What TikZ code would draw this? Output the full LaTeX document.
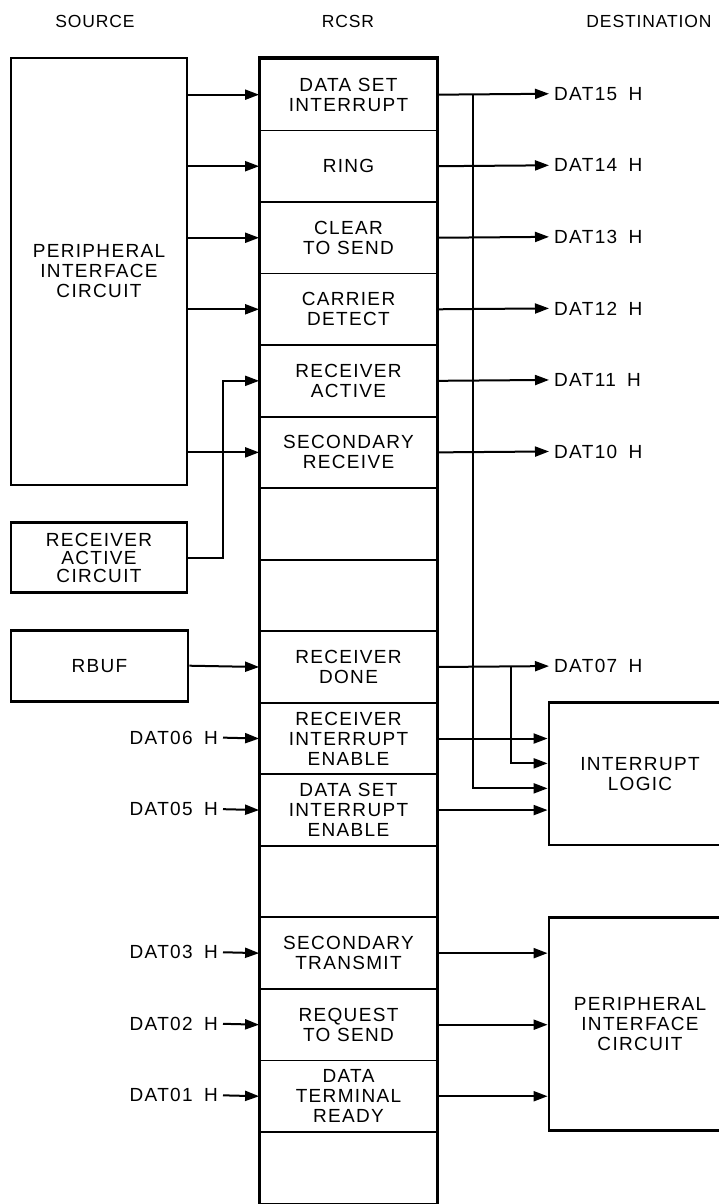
\documentclass[tikz,border=0pt]{standalone}
\usepackage{fontspec}
\newfontfamily\lbl[LetterSpace=7]{Liberation Sans}
\newfontfamily\hdl[LetterSpace=5]{Liberation Sans}
\usetikzlibrary{arrows.meta}
\begin{document}
\begin{tikzpicture}[x=1pt,y=-1pt,
  txt/.style={font=\lbl\fontsize{19}{20}\selectfont, align=center, inner sep=0pt},
  head/.style={font=\hdl\fontsize{17.5}{19}\selectfont, inner sep=0pt},
  cell/.style={txt, draw, line width=1.8pt, minimum width=177pt, minimum height=71.54pt, anchor=north},
  blk/.style={txt, draw, line width=2.8pt},
  conn/.style={line width=2pt, -{Triangle[length=14pt,width=10pt]}},
  sigl/.style={txt, inner xsep=5pt, anchor=east},
  sigr/.style={txt, inner xsep=5pt, anchor=west}
]
\useasboundingbox (0,0) rectangle (719,1204);
\clip (0,0) rectangle (719,1204);

% headings
\node[head] (hsrc) at (95,21) {SOURCE};
\node[head] (hrcsr) at (348,21) {RCSR};
\node[head] (hdst) at (649,21) {DESTINATION};

% RCSR register cells
\node[cell] (b15) at (348.5,58.00) {DATA SET\\INTERRUPT};
\node[cell] (b14) at (348.5,129.54) {RING};
\node[cell] (b13) at (348.5,201.08) {CLEAR\\TO SEND};
\node[cell] (b12) at (348.5,272.62) {CARRIER\\DETECT};
\node[cell] (b11) at (348.5,344.16) {RECEIVER\\ACTIVE};
\node[cell] (b10) at (348.5,415.70) {SECONDARY\\RECEIVE};
\node[cell] (b9)  at (348.5,487.24) {};
\node[cell] (b8)  at (348.5,558.78) {};
\node[cell] (b7)  at (348.5,630.32) {RECEIVER\\DONE};
\node[cell] (b6)  at (348.5,701.86) {RECEIVER\\INTERRUPT\\ENABLE};
\node[cell] (b5)  at (348.5,773.40) {DATA SET\\INTERRUPT\\ENABLE};
\node[cell] (b4)  at (348.5,844.94) {};
\node[cell] (b3)  at (348.5,916.48) {SECONDARY\\TRANSMIT};
\node[cell] (b2)  at (348.5,988.02) {REQUEST\\TO SEND};
\node[cell] (b1)  at (348.5,1059.56) {DATA\\TERMINAL\\READY};
\node[cell] (b0)  at (348.5,1131.10) {};
\draw[line width=3pt] (b15.north west) rectangle (b0.south east);

% source blocks
\node[blk, minimum width=176pt, minimum height=427pt] (pic) at (99,271.5) {PERIPHERAL\\INTERFACE\\CIRCUIT};
\node[blk, minimum width=176pt, minimum height=70pt] (rac) at (99,557.7) {RECEIVER\\[-2pt]ACTIVE\\[-2pt]CIRCUIT};
\node[blk, minimum width=177pt, minimum height=71pt] (rbuf) at (99.5,665.7) {RBUF};

% destination blocks (right side runs off the page)
\node[blk, minimum width=182pt, minimum height=142.3pt] (il) at (640,773.85) {INTERRUPT\\LOGIC};
\node[blk, minimum width=182pt, minimum height=213pt] (pic2) at (640,1024.2) {PERIPHERAL\\INTERFACE\\CIRCUIT};

% source-side signal labels
\node[sigl] (s6) at (223,737.63) {DAT06\hspace{0.6em}H};
\node[sigl] (s5) at (223,809.17) {DAT05\hspace{0.6em}H};
\node[sigl] (s3) at (223,952.25) {DAT03\hspace{0.6em}H};
\node[sigl] (s2) at (223,1023.79) {DAT02\hspace{0.6em}H};
\node[sigl] (s1) at (223,1095.33) {DAT01\hspace{0.6em}H};

% destination signal labels
\node[sigr] (d15) at (549,93.77) {DAT15\hspace{0.6em}H};
\node[sigr] (d14) at (549,165.31) {DAT14\hspace{0.6em}H};
\node[sigr] (d13) at (549,236.85) {DAT13\hspace{0.6em}H};
\node[sigr] (d12) at (549,308.39) {DAT12\hspace{0.6em}H};
\node[sigr] (d11) at (549,379.93) {DAT11\hspace{0.6em}H};
\node[sigr] (d10) at (549,451.47) {DAT10\hspace{0.6em}H};
\node[sigr] (d7)  at (549,666.09) {DAT07\hspace{0.6em}H};

% bus coordinates
\coordinate (v15) at (472.7,0);
\coordinate (v7) at (511,0);
\coordinate (racx) at (223,0);

% inputs from source
\draw[conn] (pic.east |- b15.west) -- (b15.west);
\draw[conn] (pic.east |- b14.west) -- (b14.west);
\draw[conn] (pic.east |- b13.west) -- (b13.west);
\draw[conn] (pic.east |- b12.west) -- (b12.west);
\draw[conn] (pic.east |- b10.west) -- (b10.west);
\draw[conn] (rac.east) -| (racx |- b11.west) -- (b11.west);
\draw[conn] (rbuf.east) -- (b7.west);
\draw[conn] (s6.east) -- (b6.west);
\draw[conn] (s5.east) -- (b5.west);
\draw[conn] (s3.east) -- (b3.west);
\draw[conn] (s2.east) -- (b2.west);
\draw[conn] (s1.east) -- (b1.west);

% outputs to destination
\draw[conn] (b15.east) -- (d15.west);
\draw[conn] (b14.east) -- (d14.west);
\draw[conn] (b13.east) -- (d13.west);
\draw[conn] (b12.east) -- (d12.west);
\draw[conn] (b11.east) -- (d11.west);
\draw[conn] (b10.east) -- (d10.west);
\draw[conn] (b7.east) -- (d7.west);
\draw[conn] (b6.east) -- (b6.east -| il.west);
\draw[conn] (b5.east) -- (b5.east -| il.west);
\draw[conn] (v15 |- b15.east) |- ([yshift=-14.5pt]il.west);
\draw[conn] (v7 |- b7.east) |- ([yshift=10.5pt]il.west);
\draw[conn] (b3.east) -- (b3.east -| pic2.west);
\draw[conn] (b2.east) -- (b2.east -| pic2.west);
\draw[conn] (b1.east) -- (b1.east -| pic2.west);
\end{tikzpicture}
\end{document}
